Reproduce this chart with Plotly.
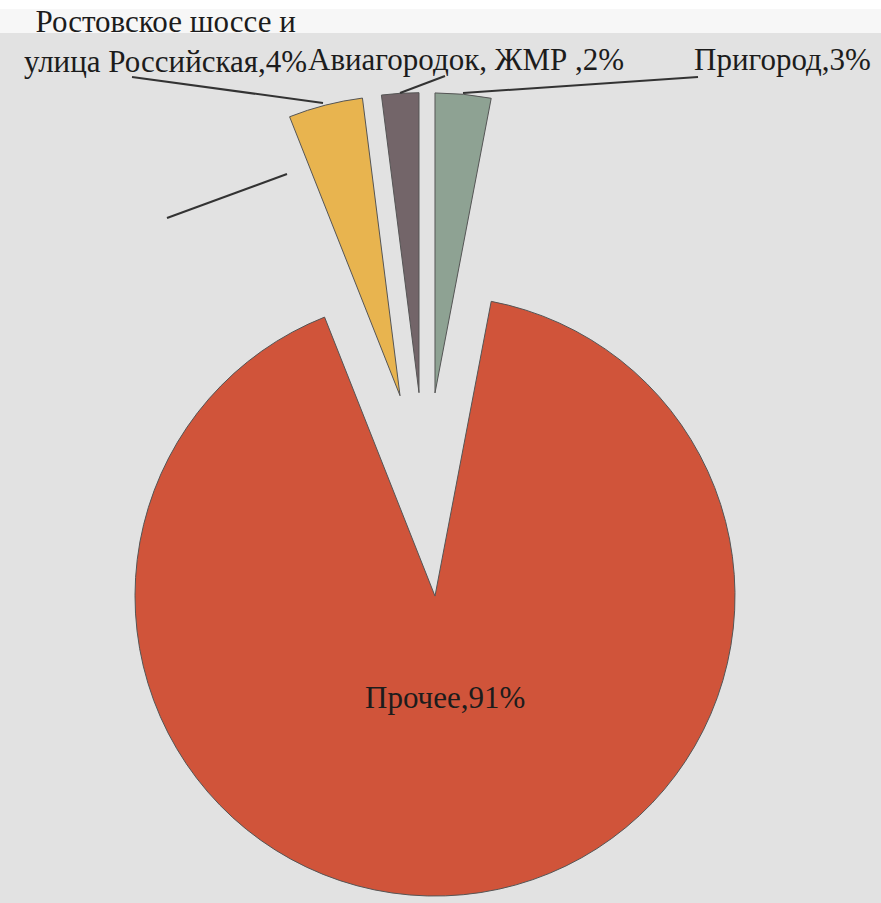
import plotly.graph_objects as go

# Shares of the exploded pie (percent), listed clockwise from the top-left slice
labels = ["Ростовское шоссе и улица Российская", "Авиагородок, ЖМР ", "Пригород", "Прочее"]
values = [4, 2, 3, 91]
colors = ["#e8b44f", "#736569", "#8ea293", "#d0543a"]

# Label text shown next to each slice
label_text = [f"{l},{v}%" for l, v in zip(labels, values)]
label_text[0] = label_text[0].replace(" улица", "<br>улица", 1)

W, H = 881, 903
BG = "#e2e2e2"
FONT = "Liberation Serif"


def px(x):
    return x / W


def py(y):
    return 1 - y / H


fig = go.Figure(
    go.Pie(
        labels=labels,
        values=values,
        sort=False,
        direction="clockwise",
        rotation=-21.6,
        pull=[0.34, 0.34, 0.34, 0.34],
        marker=dict(colors=colors, line=dict(color="#555555", width=1)),
        textinfo="none",
        hoverinfo="skip",
        showlegend=False,
        domain=dict(x=[px(23.4), px(827.4)], y=[py(897.5), py(91.5)]),
    )
)

# Label placement (pixel centres) and leader lines
label_pos = [(165, 41), (466, 60), (782, 60), (445, 697)]
annotations = []
for txt, (x, y) in zip(label_text, label_pos):
    annotations.append(
        dict(
            text=txt,
            x=px(x),
            y=py(y),
            xref="paper",
            yref="paper",
            xanchor="center",
            yanchor="middle",
            showarrow=False,
            align="center",
            font=dict(family=FONT, size=31, color="#1c1c1c"),
        )
    )

leaders = [
    ((132, 77), (323, 103)),
    ((400, 93), (445, 76)),
    ((463, 93), (698, 77)),
    ((167, 218), (287, 174)),
]

shapes = [
    # light band across the top
    dict(type="rect", xref="paper", yref="paper", x0=0, x1=1, y0=py(33), y1=1,
         fillcolor="#f7f7f7", line=dict(width=0), layer="below"),
    dict(type="rect", xref="paper", yref="paper", x0=0, x1=1, y0=py(9), y1=1,
         fillcolor="#ffffff", line=dict(width=0), layer="below"),
]
for (x0, y0), (x1, y1) in leaders:
    shapes.append(
        dict(type="line", xref="paper", yref="paper",
             x0=px(x0), y0=py(y0), x1=px(x1), y1=py(y1),
             line=dict(color="#333333", width=2), layer="above")
    )

fig.update_layout(
    width=W,
    height=H,
    margin=dict(l=0, r=0, t=0, b=0),
    paper_bgcolor=BG,
    plot_bgcolor=BG,
    annotations=annotations,
    shapes=shapes,
)

fig.write_html("out.html")
